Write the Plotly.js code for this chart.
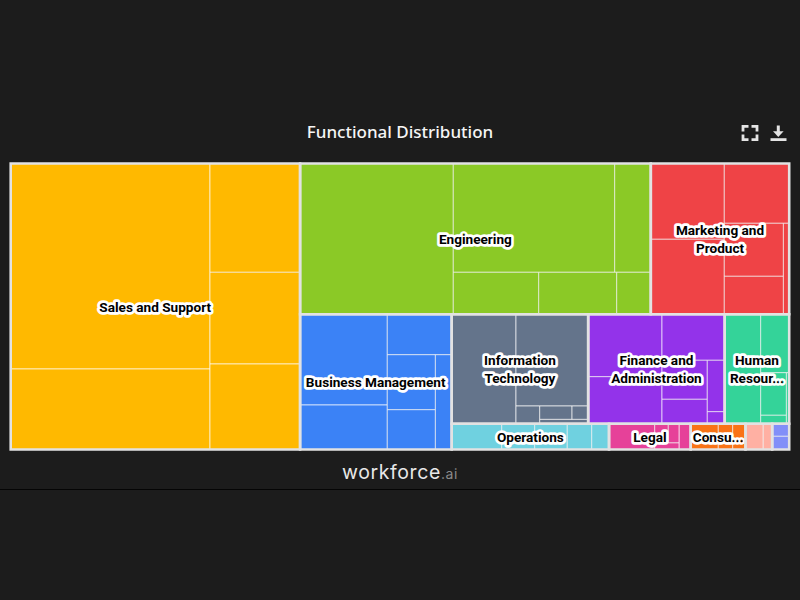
<!DOCTYPE html>
<html>
<head>
<meta charset="utf-8">
<script src="https://cdn.plot.ly/plotly-3.0.1.min.js"></script>
<style>
html,body{margin:0;padding:0;background:#1c1c1c;overflow:hidden}
#chart{width:800px;height:600px;position:absolute;left:0;top:0}
#icons{position:absolute;left:0;top:0;pointer-events:none}
.slicetext{stroke:#fff;stroke-width:5.5px;stroke-linejoin:round;paint-order:stroke}
.slicetext tspan{stroke:#fff;stroke-width:5.5px;stroke-linejoin:round;paint-order:stroke}
.annotation-text{letter-spacing:0.6px}
</style>
</head>
<body>
<div id="chart"></div>
<svg id="icons" width="800" height="600" fill="none" stroke="#e4e4e4">
  <path stroke-width="2.8" d="M743 131.5V126.3H748.5M751.5 126.3H757V131.5M757 134.5V139.7H751.5M748.5 139.7H743V134.5"/>
  <path stroke-width="3" d="M778.3 125.5V134"/>
  <path fill="#e4e4e4" stroke="none" d="M773 131.2H783.6L778.3 137Z"/>
  <path stroke-width="2.8" d="M770.5 139.6H786.5"/>
</svg>
<script>
const chartTitle = "Functional Distribution";
const groupNames = ["Sales","Engineering","Marketing","Business","IT","Finance","HR","Operations","Legal","Consulting","Other A","Other B"];
const groupLabels = ["Sales and Support","Engineering","Marketing and<br>Product","Business Management","Information<br>Technology","Finance and<br>Administration","Human<br>Resour...","Operations","Legal","Consu...","",""];
const groupColors = ["#ffb900","#8bc926","#ef4346","#3b82f6","#64748b","#9333ea","#34d399","#6fd1e0","#e64199","#f97316","#ffb0a3","#828ff8"];

// Nested by how the cells split: each level of nesting is one cut of the cell.
const salesValues = [[[40956,16044],[9803,8262,7704]]];
const engineeringValues = [[23103,[[17560,3928],[3587,3276,1432]]]];
const marketingValues = [[[5571,5513],[3881,[[3127,2242],537]]]];
const businessValues = [[[7909,3880],[2602,[[2640,1910],1555]]]];
const itValues = [[7041,[6621,[422,[[430,215],218]]]]];
const financeValues = [[[4605,3476],[2884,[[1767,1110],[894,211]]]]];
const hrValues = [[3942,[1664,[[1091,218],148]]]];
const operationsValues = [[1285,848,838,627,445]];
const legalValues = [[1174,[[257,202],165],301]];
const consultingValues = [[709,370,329]];
const otherAValues = [[457,229]];
const otherBValues = [213,224];
const groupValues = [salesValues,engineeringValues,marketingValues,businessValues,itValues,financeValues,hrValues,operationsValues,legalValues,consultingValues,otherAValues,otherBValues];

// How the groups nest among themselves
const layoutIds     = ["root","rest","top","bottom","right","upper","lower"];
const layoutParents = ["","root","rest","rest","bottom","right","right"];
const groupParents  = ["root","top","top","bottom","upper","upper","upper","lower","lower","lower","lower","lower"];
const groupOrder    = {root:["Sales","rest"],rest:["top","bottom"],top:["Engineering","Marketing"],bottom:["Business","right"],right:["upper","lower"],upper:["IT","Finance","HR"],lower:["Operations","Legal","Consulting","Other A","Other B"]};

const CLEAR = "rgba(0,0,0,0)";
function sumOf(v){return Array.isArray(v)?v.reduce((a,b)=>a+sumOf(b),0):v;}

const base = {ids:[],labels:[],parents:[],values:[],colors:[],widths:[]};
const over = {ids:[],labels:[],parents:[],values:[],colors:[],widths:[]};
function add(t,id,label,parent,value,color,width){t.ids.push(id);t.labels.push(label);t.parents.push(parent);t.values.push(value);t.colors.push(color);t.widths.push(width);}
function walk(v,id,parent,color){
  if(Array.isArray(v)){
    add(base,id,"",parent,0,CLEAR,0);
    v.forEach((c,i)=>walk(c,id+"."+i,id,color));
  } else add(base,id,"",parent,v,color,1);
}
function place(id){
  const gi = groupNames.indexOf(id);
  if(gi>=0){
    const parent = groupParents[gi];
    walk(groupValues[gi],id,parent,groupColors[gi]);
    add(over,id,groupLabels[gi],parent,sumOf(groupValues[gi]),CLEAR,2.6);
  } else {
    const parent = layoutParents[layoutIds.indexOf(id)];
    add(base,id,"",parent,0,CLEAR,0);
    add(over,id,"",parent,0,CLEAR,0);
    groupOrder[id].forEach(place);
  }
}
place("root");

const domain = {x:[10.7/800,789.2/800],y:[1-449.5/600,1-163.5/600]};
const tiling = {packing:"slice-dice",pad:0};
const common = {type:"treemap",branchvalues:"remainder",sort:false,domain:domain,tiling:tiling,
  pathbar:{visible:false},hoverinfo:"skip",root:{color:CLEAR}};
const trace1 = Object.assign({},common,{ids:base.ids,labels:base.labels,parents:base.parents,values:base.values,
  textinfo:"none",
  marker:{colors:base.colors,pad:{t:0,l:0,r:0,b:0},depthfade:false,line:{color:"rgba(255,255,255,0.65)",width:base.widths}}});
const trace2 = Object.assign({},common,{ids:over.ids,labels:over.labels,parents:over.parents,values:over.values,
  textinfo:"label",textposition:"middle center",
  textfont:{family:"Roboto, Noto Sans, sans-serif",size:13.6,color:"#000",weight:"bold"},
  marker:{colors:over.colors,pad:{t:0,l:0,r:0,b:0},depthfade:false,line:{color:"#e2e2e2",width:over.widths}}});

const lay = {
  width:800,height:600,margin:{l:0,r:0,t:0,b:0},
  paper_bgcolor:"#1c1c1c",plot_bgcolor:"#1c1c1c",showlegend:false,
  uniformtext:{mode:"show",minsize:13.6},
  title:{text:chartTitle,x:0.5,xref:"paper",xanchor:"center",y:1-132/600,yref:"paper",yanchor:"middle",
    font:{family:"Noto Sans, sans-serif",size:17,color:"#f5f5f5",weight:500}},
  annotations:[{xref:"paper",yref:"paper",x:0.5,y:1-472/600,xanchor:"center",yanchor:"middle",showarrow:false,
    text:'workforce<span style="color:#8a8a8a;font-size:14px">.ai</span>',
    font:{family:"Inter, sans-serif",size:19.5,color:"#e8e8e8",weight:400}}],
  shapes:[{type:"line",xref:"paper",yref:"paper",x0:0,x1:1,y0:1-489.5/600,y1:1-489.5/600,line:{color:"#050505",width:1}}]
};
Plotly.newPlot("chart",[trace1,trace2],lay,{displayModeBar:false});
</script>
</body>
</html>
